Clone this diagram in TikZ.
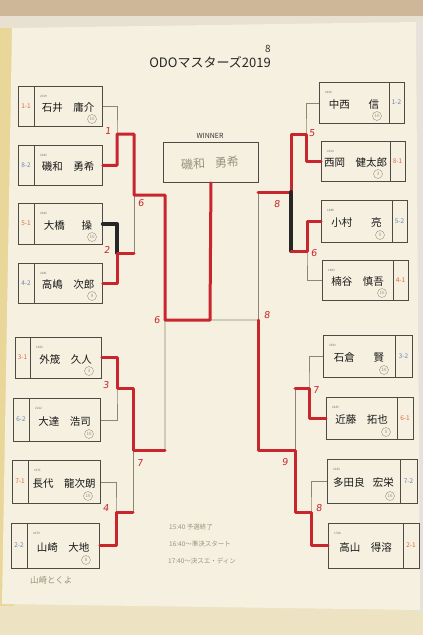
\documentclass[tikz,border=0pt]{standalone}
\usepackage{fontspec}
\setmainfont{Noto Sans CJK JP}
\newfontfamily\hand[FakeSlant=0.12]{DejaVu Sans}
\definecolor{paper}{HTML}{F5F0E0}
\definecolor{wallc}{HTML}{EDE3C3}
\definecolor{topc}{HTML}{CDB798}
\definecolor{shelf}{HTML}{E8E1D2}
\definecolor{leftc}{HTML}{E9D79A}
\definecolor{rightc}{HTML}{E6E2DA}
\definecolor{lineg}{HTML}{8E8672}
\definecolor{boxc}{HTML}{4E4B44}
\definecolor{markred}{HTML}{C8262C}
\definecolor{sred}{HTML}{E4683F}
\definecolor{sblue}{HTML}{6E84B4}
\definecolor{pencil}{HTML}{9C927E}
\begin{document}
\begin{tikzpicture}[x=1pt,y=-1pt,
  thinl/.style={draw=lineg, line width=0.7pt},
  redm/.style={draw=markred, line width=3pt, line join=round, line cap=round},
  blkm/.style={draw=black!85, line width=4pt, line cap=round, line join=round},
  boxn/.style={draw=boxc, line width=0.9pt, inner sep=0pt, anchor=north west},
  seedt/.style={font=\fontsize{6.5}{7}\selectfont},
  namet/.style={font=\fontsize{10.5}{12}\selectfont, text=black!90, inner sep=0pt},
  ratet/.style={font=\fontsize{3}{3}\selectfont, text=black!55, anchor=west, inner sep=0pt},
  numl/.style={font=\hand\fontsize{9.5}{10}\selectfont, text=markred, inner sep=0pt},
  circn/.style={circle, draw=pencil, line width=0.4pt, inner sep=0.3pt, minimum size=9pt, font=\fontsize{4.5}{5}\selectfont, text=pencil},
  note/.style={font=\fontsize{6.5}{7}\selectfont, text=pencil, anchor=west, inner sep=0pt}]
\useasboundingbox (0,0) rectangle (423,635);
% background
\fill[wallc] (0,0) rectangle (423,635);
\fill[topc] (0,0) rectangle (423,18);
\fill[shelf] (0,16) rectangle (423,28);
\fill[leftc] (0,28) rectangle (14,606);
\fill[rightc] (414,20) rectangle (423,612);
\fill[paper] (12,28) -- (416,22) -- (420,610) -- (2,604) -- cycle;

% title
\node[font=\fontsize{13}{14}\selectfont, text=black!85] (title) at (210,62) {ODOマスターズ2019};
\node[font=\fontsize{10}{10}\selectfont, text=black!80, inner sep=0pt] (eight) at (268,49) {8};

% winner
\node[font=\fontsize{7}{7}\selectfont, text=black!80] (wl) at (210,136) {WINNER};
\node[boxn, minimum width=95pt, minimum height=40pt] (W) at (163,142) {};
\node[font=\fontsize{12}{12}\selectfont, text=pencil, rotate=3] (wn) at (210,163) {磯和\hspace{0.8em}勇希};

% left boxes
\foreach \id/\xa/\ya/\xb/\yb/\dv/\sd/\sc/\nm/\rt in {
  L1/18/86/102/126/34/1-1/sred/{石井\hspace{1em}庸介}/2319,
  L2/18/145/102/185/34/8-2/sblue/{磯和\hspace{1em}勇希}/2483,
  L3/18/203/102/244/34/5-1/sred/{大橋\hspace{1.6em}操}/2466,
  L4/18/263/102/303/34/4-2/sblue/{高嶋\hspace{1em}次郎}/2281,
  L5/15/337/101/378/30/3-1/sred/{外筬\hspace{1em}久人}/1650,
  L6/13/398/100/441/29/6-2/sblue/{大達\hspace{1em}浩司}/2222,
  L7/12/460/100/503/28/7-1/sred/{長代\hspace{1em}龍次朗}/2271,
  L8/11/523/99/568/27/2-2/sblue/{山崎\hspace{1em}大地}/2470}{
  \pgfmathsetmacro\w{\xb-\xa}\pgfmathsetmacro\h{\yb-\ya}
  \node[boxn, minimum width=\w pt, minimum height=\h pt] (\id) at (\xa,\ya) {};
  \draw[boxc, line width=0.8pt] (\dv,\ya) -- (\dv,\yb);
  \node[seedt, text=\sc] (\id s) at ({(\xa+\dv)/2},{(\ya+\yb)/2}) {\sd};
  \node[ratet] (\id r) at (\dv+6,\ya+10) {\rt};
  \node[namet] (\id n) at ({(\dv+\xb)/2},{(\ya+\yb)/2+2}) {\nm};
}
% right boxes
\foreach \id/\xa/\ya/\xb/\yb/\dv/\sd/\sc/\nm/\rt in {
  R1/319/82/404/123/389/1-2/sblue/{中西\hspace{1.8em}信}/2426,
  R2/321/141/405/181/390/8-1/sred/{西岡\hspace{1em}健太郎}/2224,
  R3/321/200/407/242/392/5-2/sblue/{小村\hspace{1.8em}亮}/1888,
  R4/322/260/408/300/393/4-1/sred/{楠谷\hspace{1em}慎吾}/1863,
  R5/323/335/412/377/395/3-2/sblue/{石倉\hspace{1.8em}賢}/2503,
  R6/326/397/413/439/397/6-1/sred/{近藤\hspace{1em}拓也}/2445,
  R7/327/459/417/503/400/7-2/sblue/{多田良\hspace{0.8em}宏栄}/2183,
  R8/328/523/419/568/403/2-1/sred/{高山\hspace{1em}得溶}/1766}{
  \pgfmathsetmacro\w{\xb-\xa}\pgfmathsetmacro\h{\yb-\ya}
  \node[boxn, minimum width=\w pt, minimum height=\h pt] (\id) at (\xa,\ya) {};
  \draw[boxc, line width=0.8pt] (\dv,\ya) -- (\dv,\yb);
  \node[seedt, text=\sc] (\id s) at ({(\dv+\xb)/2},{(\ya+\yb)/2}) {\sd};
  \node[ratet] (\id r) at (\xa+6,\ya+10) {\rt};
  \node[namet] (\id n) at ({(\xa+\dv)/2},{(\ya+\yb)/2+2}) {\nm};
}
% circled pencil numbers
\node[circn] (c1) at (92,119) {16};
\node[circn] (c3) at (92,237) {16};
\node[circn] (c4) at (92,296) {9};
\node[circn] (c5) at (89,371) {3};
\node[circn] (c6) at (89,434) {16};
\node[circn] (c7) at (88,496) {16};
\node[circn] (c8) at (86,560) {8};
\node[circn] (d1) at (377,116) {16};
\node[circn] (d2) at (378,174) {3};
\node[circn] (d3) at (380,235) {5};
\node[circn] (d4) at (382,293) {16};
\node[circn] (d5) at (384,370) {16};
\node[circn] (d6) at (386,432) {5};
\node[circn] (d7) at (390,496) {16};

% junction coordinates
\coordinate (m1) at (117,134); \coordinate (m1o) at (134,134);
\coordinate (m2) at (117,253); \coordinate (m2o) at (134,253);
\coordinate (s1) at (134,195); \coordinate (s1o) at (165,195);
\coordinate (m3) at (117,388); \coordinate (m3o) at (133,388);
\coordinate (m4) at (116,512); \coordinate (m4o) at (133,512);
\coordinate (s2) at (133,450); \coordinate (s2o) at (165,450);
\coordinate (f1) at (165,320); \coordinate (c0) at (210,320);
\coordinate (n1) at (306,134); \coordinate (n1o) at (291,134);
\coordinate (n2) at (307,251); \coordinate (n2o) at (291,251);
\coordinate (t1) at (291,192); \coordinate (t1o) at (258,192);
\coordinate (n3) at (309,388); \coordinate (n3o) at (295,388);
\coordinate (n4) at (311,512); \coordinate (n4o) at (295,512);
\coordinate (t2) at (295,450); \coordinate (t2o) at (258,450);
\coordinate (f2) at (258,320);

% thin bracket
\draw[thinl] (L1.east) -| (m1) |- (L2.east) (m1) -- (m1o);
\draw[thinl] (L3.east) -| (m2) |- (L4.east) (m2) -- (m2o);
\draw[thinl] (m1o) -- (m2o) (s1) -- (s1o);
\draw[thinl] (L5.east) -| (m3) |- (L6.east) (m3) -- (m3o);
\draw[thinl] (L7.east) -| (m4) |- (L8.east) (m4) -- (m4o);
\draw[thinl] (m3o) -- (m4o) (s2) -- (s2o);
\draw[thinl] (s1o) -- (s2o) (f1) -- (c0) -- (f2) (W.south) -- (c0);
\draw[thinl] (R1.west) -| (n1) |- (R2.west) (n1) -- (n1o);
\draw[thinl] (R3.west) -| (n2) |- (R4.west) (n2) -- (n2o);
\draw[thinl] (n1o) -- (n2o) (t1) -- (t1o);
\draw[thinl] (R5.west) -| (n3) |- (R6.west) (n3) -- (n3o);
\draw[thinl] (R7.west) -| (n4) |- (R8.west) (n4) -- (n4o);
\draw[thinl] (n3o) -- (n4o) (t2) -- (t2o) (t1o) -- (t2o);

% marker lines
\draw[redm] (L2.east) -| (m1) -- (m1o) -- (s1) -- (s1o) -- (f1) -- (c0) -- (W.south);
\draw[blkm] (L3.east) -| (m2);
\draw[redm] (L4.east) -| (m2) -- (m2o);
\draw[redm] (L5.east) -| (m3) -- (m3o) -- (s2) -- (s2o);
\draw[redm] (L8.east) -| (m4) -- (m4o);
\draw[redm] (R2.west) -| (n1) -- (n1o) -- (t1) -- (t1o);
\draw[blkm] (t1) -- (n2o);
\draw[redm] (R3.west) -| (n2) -- (n2o);
\draw[redm] (R6.west) -| (n3) -- (n3o);
\draw[redm] (R8.west) -| (n4) -- (n4o) -- (t2) -- (t2o) -- (f2);

% red handwritten round numbers
\node[numl] (k1) at (108,131) {1};
\node[numl] (k2) at (107,250) {2};
\node[numl] (k3) at (141,203) {6};
\node[numl] (k4) at (157,320) {6};
\node[numl] (k5) at (106,385) {3};
\node[numl] (k6) at (106,508) {4};
\node[numl] (k7) at (140,463) {7};
\node[numl] (k8) at (312,133) {5};
\node[numl] (k9) at (314,253) {6};
\node[numl] (k10) at (277,204) {8};
\node[numl] (k11) at (267,315) {8};
\node[numl] (k12) at (316,390) {7};
\node[numl] (k13) at (285,462) {9};
\node[numl] (k14) at (319,508) {8};

% pencil notes
\node[note] (t1n) at (169,527) {15:40 予選終了};
\node[note] (t2n) at (169,544) {16:40～準決スタート};
\node[note] (t3n) at (168,561) {17:40～決スエ・ディン};
\node[note, font=\fontsize{8.5}{9}\selectfont] (bl) at (30,580) {山崎とくよ};
\end{tikzpicture}
\end{document}
